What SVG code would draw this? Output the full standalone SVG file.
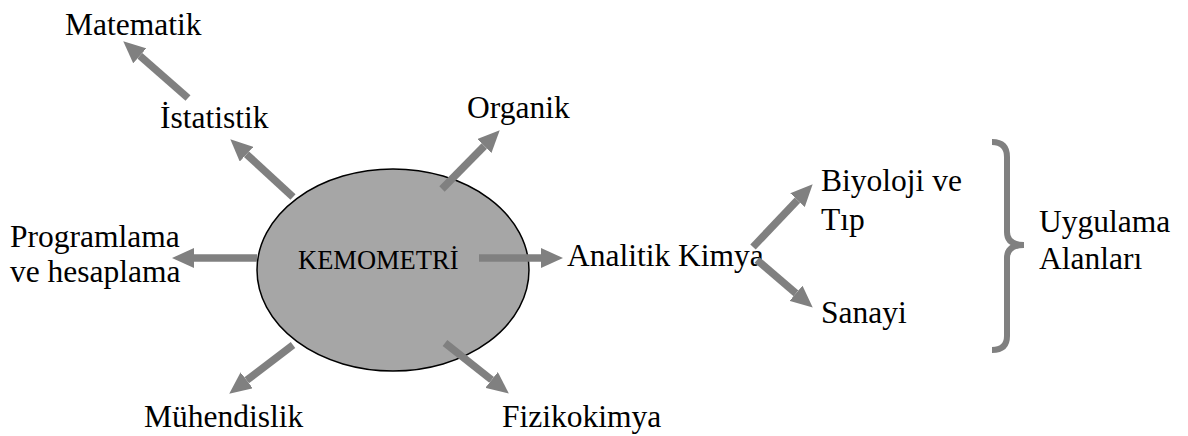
<svg xmlns="http://www.w3.org/2000/svg" width="1188" height="436" viewBox="0 0 1188 436">
<style>
.t{font-family:"Liberation Serif","Times New Roman",serif;font-size:31.5px;fill:#000}
.k{font-family:"Liberation Serif","Times New Roman",serif;font-size:26.5px;fill:#000}
.a{stroke:#808080;stroke-width:7.5;fill:none;marker-end:url(#ah)}
</style>
<defs>
<marker id="ah" markerUnits="userSpaceOnUse" viewBox="0 0 22 20" markerWidth="22" markerHeight="20" refX="0" refY="10" orient="auto">
<path d="M0,0 L22,10 L0,20 z" fill="#808080"/>
</marker>
</defs>
<rect width="1188" height="436" fill="#fff"/>
<g id="center">
<ellipse cx="393" cy="270" rx="136" ry="101" fill="#a6a6a6" stroke="#000" stroke-width="1.5"/>
<text class="k" x="298" y="269">KEMOMETRİ</text>
</g>
<g id="matematik"><text class="t" x="65" y="35">Matematik</text></g>
<g id="istatistik"><text class="t" x="160" y="128">İstatistik</text></g>
<g id="organik"><text class="t" x="467" y="118">Organik</text></g>
<g id="programlama"><text class="t" x="10" y="247">Programlama</text><text class="t" x="10" y="282">ve hesaplama</text></g>
<g id="analitik"><text class="t" x="567" y="266">Analitik Kimya</text></g>
<g id="muhendislik"><text class="t" x="144" y="427">Mühendislik</text></g>
<g id="fizikokimya"><text class="t" x="502" y="427">Fizikokimya</text></g>
<g id="biyoloji"><text class="t" x="821" y="191">Biyoloji ve</text><text class="t" x="821" y="230">Tıp</text></g>
<g id="sanayi"><text class="t" x="821" y="323">Sanayi</text></g>
<g id="uygulama">
<path d="M992,142 Q1007,142 1007,157 L1007,232 Q1007,245 1024,245 Q1007,245 1007,258 L1007,336 Q1007,350 992,350" fill="none" stroke="#808080" stroke-width="6"/>
<text class="t" x="1039" y="232">Uygulama</text><text class="t" x="1039" y="269">Alanları</text>
</g>
<g id="connectors">
<line class="a" x1="188" y1="98" x2="139.8" y2="55.8"/>
<line class="a" x1="293" y1="197" x2="246.5" y2="154.2"/>
<line class="a" x1="442" y1="189" x2="484.3" y2="146"/>
<line class="a" x1="257" y1="258" x2="194" y2="258"/>
<line class="a" x1="479" y1="258" x2="541" y2="258"/>
<line class="a" x1="293" y1="345" x2="246.7" y2="380.3"/>
<line class="a" x1="445" y1="343" x2="491.6" y2="379.9"/>
<line class="a" x1="753" y1="247" x2="797.5" y2="200.2"/>
<line class="a" x1="757" y1="260" x2="796" y2="293.3"/>
</g>
</svg>
